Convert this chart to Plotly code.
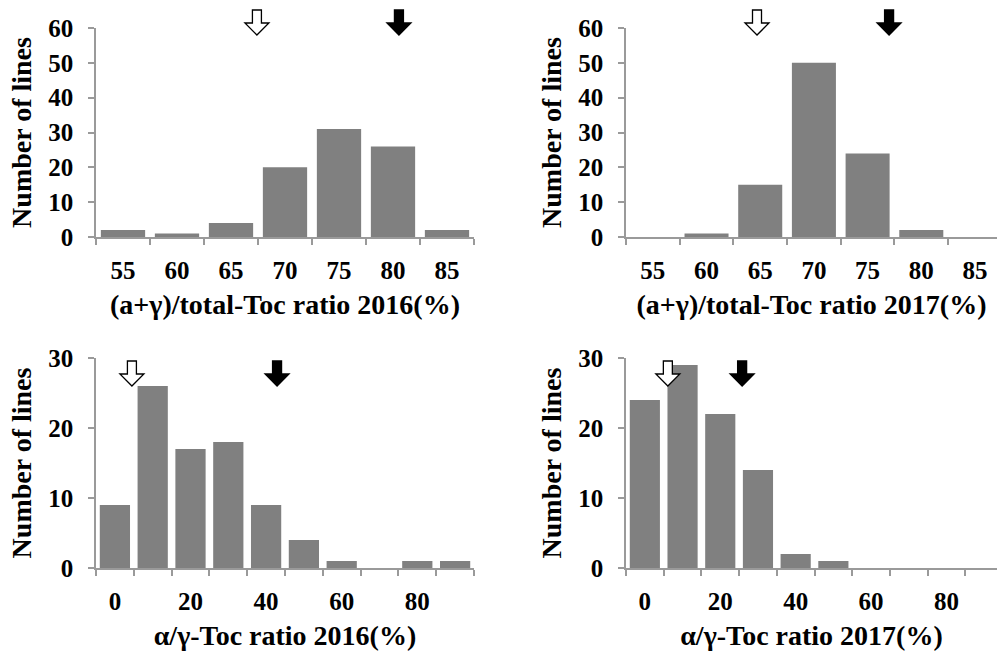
import plotly.graph_objects as go

# ---------------- data ----------------
ratio_bins = ["55", "60", "65", "70", "75", "80", "85"]
ratio_2016 = [2, 1, 4, 20, 31, 26, 2]
ratio_2017 = [0, 1, 15, 50, 24, 2, 0]

ag_bins = ["0", "10", "20", "30", "40", "50", "60", "70", "80", "90"]
ag_labels = ["0", "", "20", "", "40", "", "60", "", "80", ""]
ag_2016 = [9, 26, 17, 18, 9, 4, 1, 0, 1, 1]
ag_2017 = [24, 29, 22, 14, 2, 1, 0, 0, 0, 0]

# arrow markers (value in %): open arrow and filled arrow
open_arrow = [67.4, 64.7, 4.5, 6.1]
filled_arrow = [80.55, 77.0, 42.9, 25.8]

x_titles = ["(a+γ)/total-Toc ratio 2016(%)", "(a+γ)/total-Toc ratio 2017(%)",
            "α/γ-Toc ratio 2016(%)", "α/γ-Toc ratio 2017(%)"]
y_title = "Number of lines"

# ---------------- layout constants ----------------
W, H = 997, 657
FONT = "Liberation Serif, Times New Roman, serif"
AXCOL = "#9a9a9a"
BARCOL = "#808080"

panels = [
    dict(bins=ratio_bins, labels=ratio_bins, vals=ratio_2016, ymax=60,
         xd=[96, 474], yd=[237, 28], xr=[-0.5, 6.5], gap=0.18, start=55, step=5,
         arr=(18, 5, -7)),
    dict(bins=ratio_bins, labels=ratio_bins, vals=ratio_2017, ymax=60,
         xd=[626, 997], yd=[237, 28], xr=[-0.5, 6.41], gap=0.18, start=55, step=5,
         arr=(18, 5, -7)),
    dict(bins=ag_bins, labels=ag_labels, vals=ag_2016, ymax=30,
         xd=[96, 474], yd=[568, 358], xr=[-0.5, 9.5], gap=0.2, start=0, step=10,
         arr=(-3, -16, -28)),
    dict(bins=ag_bins, labels=ag_labels, vals=ag_2017, ymax=30,
         xd=[626, 997], yd=[568, 358], xr=[-0.5, 9.34], gap=0.2, start=0, step=10,
         arr=(-3, -16, -28)),
]

fig = go.Figure()
shapes = []
for i, p in enumerate(panels):
    n = "" if i == 0 else str(i + 1)
    xa, ya = "x" + n, "y" + n
    fig.add_trace(go.Bar(x=p["bins"], y=p["vals"], xaxis=xa, yaxis=ya,
                         width=1 - p["gap"],
                         marker=dict(color=BARCOL, line=dict(width=0)),
                         showlegend=False, hoverinfo="x+y"))
    xdom = [p["xd"][0] / W, p["xd"][1] / W]
    ydom = [1 - p["yd"][0] / H, 1 - p["yd"][1] / H]
    fig.layout["xaxis" + n] = dict(
        domain=xdom, anchor=ya, type="category", range=p["xr"], automargin=False,
        categoryorder="array", categoryarray=p["bins"],
        tickmode="array", tickvals=p["bins"], ticktext=p["labels"],
        tickson="boundaries", ticks="outside", ticklen=6, tickwidth=1.5,
        tickcolor=AXCOL, showline=True, linecolor=AXCOL, linewidth=1.5,
        showgrid=False, zeroline=False, ticklabelstandoff=10,
        tickfont=dict(family=FONT, size=25, color="black", weight="bold"),
        title=dict(text=x_titles[i], standoff=12,
                   font=dict(family=FONT, size=28, color="black", weight="bold")),
    )
    fig.layout["yaxis" + n] = dict(
        domain=ydom, anchor=xa, range=[0, p["ymax"]], dtick=10, automargin=False,
        ticks="outside", ticklen=6, tickwidth=1.5, tickcolor=AXCOL,
        showline=True, linecolor=AXCOL, linewidth=1.5,
        showgrid=False, zeroline=False, ticklabelstandoff=10,
        tickfont=dict(family=FONT, size=25, color="black", weight="bold"),
        title=dict(text=y_title, standoff=8,
                   font=dict(family=FONT, size=28, color="black", weight="bold")),
    )
    top, base, tip = p["arr"]
    path = (f"M -4.5,{top} L 4.5,{top} L 4.5,{base} L 12,{base} L 0,{tip} "
            f"L -12,{base} L -4.5,{base} Z")
    for val, fill in ((open_arrow[i], "white"), (filled_arrow[i], "black")):
        xi = (val - p["start"]) / p["step"]
        shapes.append(dict(type="path", xref=xa, yref="paper",
                           xsizemode="pixel", ysizemode="pixel",
                           xanchor=xi, yanchor=ydom[1], path=path,
                           fillcolor=fill, line=dict(color="black", width=1.3),
                           layer="above"))

fig.update_layout(width=W, height=H, margin=dict(l=0, r=0, t=0, b=0, autoexpand=False),
                  plot_bgcolor="white", paper_bgcolor="white", shapes=shapes)
fig.write_html("out.html", config={"displayModeBar": False},
               post_script="document.body.style.margin='0';document.body.style.overflow='hidden';")
